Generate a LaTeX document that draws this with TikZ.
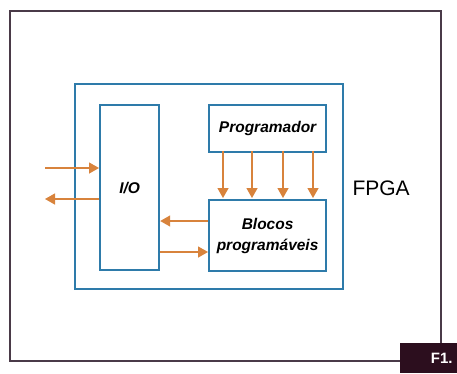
\documentclass[tikz,border=0pt]{standalone}
\usepackage{fontspec}
\setmainfont{Liberation Sans}
\usetikzlibrary{arrows.meta}
\definecolor{fblue}{HTML}{2E7BAA}
\definecolor{arr}{HTML}{D8833C}
\definecolor{frame}{HTML}{4A3A48}
\definecolor{tag}{HTML}{2C0E1E}
\begin{document}
\begin{tikzpicture}[x=1pt,y=-1pt,
  blk/.style={draw=fblue,line width=2.2pt,fill=white},
  lbl/.style={font=\fontsize{15.5}{21}\selectfont\bfseries\itshape,align=center},
  con/.style={draw=arr,line width=1.3pt,-{Triangle[length=10pt,width=11pt]}}]
\useasboundingbox (0,0) rectangle (457,373);
\fill[white] (0,0) rectangle (457,373);
\draw[frame,line width=1.8pt] (10,11) rectangle (441,361);
\node[fill=tag,minimum width=57pt,minimum height=30pt,inner sep=0pt,anchor=north west,
  text=white,font=\fontsize{15}{15}\selectfont\bfseries] (tag) at (400,343) {\hspace*{26pt}F1.};
\draw[blk] (75,84) rectangle (343,289);
\node[anchor=west,font=\fontsize{21}{21}\selectfont] (fpga) at (349,188) {FPGA};
\node[blk,minimum width=59pt,minimum height=165pt,inner sep=0pt,anchor=north west] (io) at (99,104) {};
\node[lbl] at (io.center) {I/O};
\node[blk,minimum width=117pt,minimum height=47pt,inner sep=0pt,anchor=north west,lbl] (prog) at (208,104) {Programador};
\node[blk,minimum width=117pt,minimum height=71pt,inner sep=0pt,anchor=north west,lbl] (bloc) at (208,199) {Blocos\\programáveis};
\foreach \x in {223,252,283,313}{
  \draw[con] (\x,151) -- (\x,198);
}
\coordinate (inA) at (45,168);
\coordinate (outA) at (45,199);
\draw[con] (inA) -- (io.west |- inA);
\draw[con] (io.west |- outA) -- (outA);
\draw[con] (bloc.west |- 0,221) -- (io.east |- 0,221);
\draw[con] (io.east |- 0,252) -- (bloc.west |- 0,252);
\end{tikzpicture}
\end{document}
